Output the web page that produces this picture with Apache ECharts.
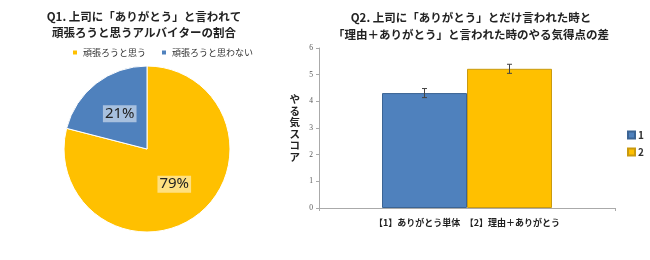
<!DOCTYPE html>
<html><head><meta charset="utf-8">
<script src="https://cdn.jsdelivr.net/npm/echarts@6/dist/echarts.min.js"></script>
<style>html,body{margin:0;padding:0;background:#fff}#c{width:650px;height:260px}</style>
</head><body><div id="c"></div>
<script>
const pieNames = ['頑張ろうと思う', '頑張ろうと思わない'];
const pieValues = [79, 21];
const barCategory = ['【1】ありがとう単体　【2】理由＋ありがとう'];
const barSeriesNames = ['1', '2'];
const barValues = [4.31, 5.22];
const barErrors = [0.17, 0.17];
const yTicks = [0, 1, 2, 3, 4, 5, 6];

const JP = '"Noto Sans CJK JP", sans-serif';
const BLUE = '#4F81BD', YELLOW = '#FFC000';
const BAR_W = 85;

const chart = echarts.init(document.getElementById('c'), null, {renderer: 'canvas'});
const option = {
  animation: false,
  textStyle: {fontFamily: JP},
  title: [
    {text: 'Q1. 上司に「ありがとう」と言われて\n頑張ろうと思うアルバイターの割合', left: 139, textAlign: 'center', top: 4,
      textStyle: {fontFamily: JP, fontSize: 11.5, fontWeight: 'bold', color: '#222', lineHeight: 16}},
    {text: 'Q2. 上司に「ありがとう」とだけ言われた時と\n「理由＋ありがとう」と言われた時のやる気得点の差', left: 466, textAlign: 'center', top: 4,
      textStyle: {fontFamily: JP, fontSize: 11.5, fontWeight: 'bold', color: '#222', lineHeight: 17}}
  ],
  legend: [
    {data: pieNames, left: 66, top: 43, itemWidth: 6, itemHeight: 6, itemGap: 14, icon: 'rect',
      textStyle: {fontSize: 9, color: '#333', fontFamily: JP}},
    {data: barSeriesNames, orient: 'vertical', left: 622, top: 125, itemWidth: 7, itemHeight: 7, itemGap: 7, icon: 'rect',
      textStyle: {fontSize: 10, color: '#333', fontWeight: 'bold', padding: [0, 0, 0, -2]}}
  ],
  color: [YELLOW, BLUE],
  grid: {left: 319, right: 35, top: 48, bottom: 52},
  xAxis: {type: 'category', data: barCategory,
    axisLine: {lineStyle: {color: '#aaa', width: 1}},
    axisTick: {show: true, length: 3, lineStyle: {color: '#aaa'}},
    axisLabel: {fontSize: 9, fontWeight: 'bold', color: '#222', margin: 10, fontFamily: JP}},
  yAxis: {type: 'value', min: yTicks[0], max: yTicks[yTicks.length - 1], interval: 1,
    name: 'やる気スコア'.split('').join('\n'), nameLocation: 'middle', nameGap: 19, nameRotate: 0,
    nameTextStyle: {fontSize: 10.5, fontWeight: 'bold', color: '#222', lineHeight: 11.5, fontFamily: JP},
    axisLine: {show: true, lineStyle: {color: '#aaa'}},
    axisTick: {show: true, length: 3, lineStyle: {color: '#aaa'}},
    splitLine: {show: false},
    axisLabel: {fontSize: 7.5, color: '#555', fontFamily: '"Liberation Serif", serif', margin: 6}},
  series: [
    {type: 'pie', center: [147, 149], radius: 83, startAngle: 90, clockwise: true,
      itemStyle: {borderColor: '#fff', borderWidth: 1},
      label: {position: 'inside', formatter: '{c}%', fontSize: 15, color: '#222', fontFamily: '"Noto Sans", sans-serif',
        backgroundColor: 'rgba(255,255,255,0.5)', padding: [2, 2, 0, 2]},
      labelLine: {show: false},
      data: pieNames.map((n, i) => ({name: n, value: pieValues[i], itemStyle: {color: i === 0 ? YELLOW : BLUE}}))},
    {type: 'bar', name: barSeriesNames[0], data: [barValues[0]], barWidth: BAR_W, barGap: '0%',
      itemStyle: {color: BLUE, borderColor: '#3b6494', borderWidth: 1}},
    {type: 'bar', name: barSeriesNames[1], data: [barValues[1]], barWidth: BAR_W, barGap: '0%',
      itemStyle: {color: YELLOW, borderColor: '#c99a10', borderWidth: 1}},
    {type: 'custom', silent: true, z: 10,
      data: barValues.map((v, i) => [0, v, barErrors[i], i]),
      renderItem: function (params, api) {
        const v = api.value(1), e = api.value(2), idx = api.value(3);
        const top = api.coord([0, v + e]);
        const bot = api.coord([0, v - e]);
        const x = top[0] + (idx - 0.5) * BAR_W;
        const style = {stroke: '#444', lineWidth: 1};
        return {type: 'group', children: [
          {type: 'line', shape: {x1: x, y1: top[1], x2: x, y2: bot[1]}, style},
          {type: 'line', shape: {x1: x - 2.5, y1: top[1], x2: x + 2.5, y2: top[1]}, style},
          {type: 'line', shape: {x1: x - 2.5, y1: bot[1], x2: x + 2.5, y2: bot[1]}, style}
        ]};
      }}
  ]
};
chart.setOption(option);
</script></body></html>
